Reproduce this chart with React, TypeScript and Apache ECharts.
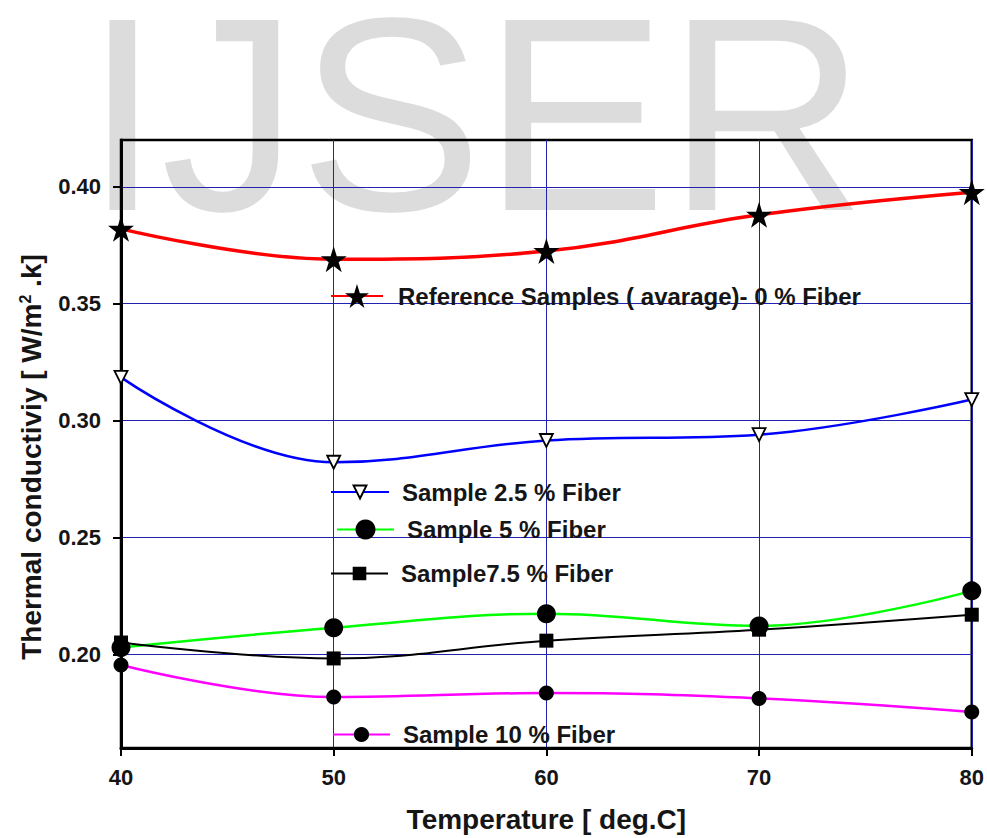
import React, { useEffect, useRef } from "react";
import * as echarts from "echarts";

const temperatures = [40, 50, 60, 70, 80];
const ref0 = [0.382, 0.369, 0.3725, 0.388, 0.3977];
const fiber25 = [0.3185, 0.2822, 0.2915, 0.294, 0.309];
const fiber5 = [0.203, 0.2114, 0.2174, 0.2122, 0.2272];
const fiber75 = [0.2051, 0.1983, 0.2059, 0.2106, 0.217];
const fiber10 = [0.1955, 0.1818, 0.1835, 0.1812, 0.1754];
const yTicks = [0.2, 0.25, 0.3, 0.35, 0.4];
const seriesNames = [
  "Reference Samples ( avarage)- 0 % Fiber",
  "Sample 2.5 % Fiber",
  "Sample 5 % Fiber",
  "Sample7.5 % Fiber",
  "Sample 10 % Fiber",
];

const FONT = "'Liberation Sans', Arial, sans-serif";
const STAR =
  "path://M50,0 L61.2,34.5 L97.6,34.5 L68.2,55.9 L79.4,90.5 L50,69.1 L20.6,90.5 L31.8,55.9 L2.4,34.5 L38.8,34.5 Z";

const pairs = (vals: number[]) => temperatures.map((t, i) => [t, vals[i]]);

export default function App() {
  const ref = useRef<HTMLDivElement>(null);
  useEffect(() => {
    if (!ref.current) return;
    const chart = echarts.init(ref.current, null, { renderer: "svg" });
    const legendText = {
      fontFamily: FONT,
      fontWeight: "bold" as const,
      fontSize: 24,
      color: "#151515",
    };
    const mkLegend = (name: string, left: number, cy: number, w: number, h: number, pad: number) => ({
      data: [name],
      left,
      top: cy - h / 2,
      orient: "vertical",
      padding: 0,
      itemWidth: w,
      itemHeight: h,
      selectedMode: false,
      textStyle: { ...legendText, padding: [0, 0, 0, pad] },
    });
    const gridColor = "#2222b0";
    chart.setOption({
      animation: false,
      backgroundColor: "#ffffff",
      graphic: [
        {
          type: "text",
          left: 84,
          top: -24,
          z: -10,
          silent: true,
          style: {
            text: "IJSER",
            fontFamily: FONT,
            fontSize: 276,
            fill: "#dcdcdc",
          },
        },
      ],
      grid: {
        left: 121,
        top: 140,
        right: 12,
        bottom: 86,
        show: true,
        borderColor: "#000",
        borderWidth: 2.5,
        backgroundColor: "transparent",
      },
      legend: [
        mkLegend(seriesNames[0], 330, 299, 52, 30, 10),
        mkLegend(seriesNames[1], 330, 488, 58, 16, 8),
        mkLegend(seriesNames[2], 336, 530, 57, 25, 8),
        mkLegend(seriesNames[3], 330, 570, 57, 17, 8),
        mkLegend(seriesNames[4], 332, 732, 57, 19, 8),
      ],
      xAxis: {
        type: "value",
        min: 40,
        max: 80,
        interval: 10,
        name: "Temperature [ deg.C]",
        nameLocation: "middle",
        nameGap: 57,
        nameTextStyle: { fontFamily: FONT, fontWeight: "bold", fontSize: 28, color: "#151515" },
        axisLine: { show: true, lineStyle: { color: "#000", width: 3 } },
        axisTick: { show: true, length: 8, lineStyle: { color: "#000", width: 2 } },
        axisLabel: { margin: 18, fontFamily: FONT, fontWeight: "bold", fontSize: 22, color: "#151515" },
        splitLine: { show: true, lineStyle: { color: gridColor, width: 1 } },
      },
      yAxis: {
        type: "value",
        min: 0.16,
        max: 0.42,
        name: "Thermal conductiviy [ W/m{sup|2} .k]",
        nameLocation: "middle",
        nameGap: 76,
        nameTextStyle: {
          fontFamily: FONT,
          fontWeight: "bold",
          fontSize: 28,
          color: "#151515",
          padding: [0, 26, 0, 0],
          rich: {
            sup: { fontFamily: FONT, fontWeight: "bold", fontSize: 16, color: "#151515", verticalAlign: "top" },
          },
        },
        axisLine: { show: true, lineStyle: { color: "#000", width: 3 } },
        axisTick: { show: true, length: 8, customValues: yTicks, lineStyle: { color: "#000", width: 2 } },
        axisLabel: {
          customValues: yTicks,
          margin: 20,
          fontFamily: FONT,
          fontWeight: "bold",
          fontSize: 22,
          color: "#151515",
          formatter: (v: number) => v.toFixed(2),
        },
        splitLine: { show: true, lineStyle: { color: gridColor, width: 1 } },
      },
      series: [
        {
          name: seriesNames[0],
          type: "line",
          data: pairs(ref0),
          smooth: 0.4,
          clip: false,
          symbol: STAR,
          symbolSize: 26,
          lineStyle: { color: "#ff0000", width: 3.5 },
          itemStyle: { color: "#000" },
        },
        {
          name: seriesNames[1],
          type: "line",
          data: pairs(fiber25),
          smooth: 0.4,
          clip: false,
          symbol: "triangle",
          symbolRotate: 180,
          symbolSize: 13,
          lineStyle: { color: "#0000ff", width: 2.5 },
          itemStyle: { color: "#ffffff", borderColor: "#000", borderWidth: 1.8 },
        },
        {
          name: seriesNames[2],
          type: "line",
          data: pairs(fiber5),
          smooth: 0.4,
          clip: false,
          symbol: "circle",
          symbolSize: 19,
          lineStyle: { color: "#00ff00", width: 2.5 },
          itemStyle: { color: "#000" },
        },
        {
          name: seriesNames[3],
          type: "line",
          data: pairs(fiber75),
          smooth: 0.4,
          clip: false,
          symbol: "rect",
          symbolSize: 14,
          lineStyle: { color: "#000", width: 2 },
          itemStyle: { color: "#000" },
        },
        {
          name: seriesNames[4],
          type: "line",
          data: pairs(fiber10),
          smooth: 0.4,
          clip: false,
          symbol: "circle",
          symbolSize: 15,
          lineStyle: { color: "#ff00ff", width: 2.5 },
          itemStyle: { color: "#000" },
        },
      ],
    });
    return () => chart.dispose();
  }, []);
  return <div ref={ref} style={{ width: 987, height: 838, position: "absolute", left: 0, top: 0 }} />;
}
